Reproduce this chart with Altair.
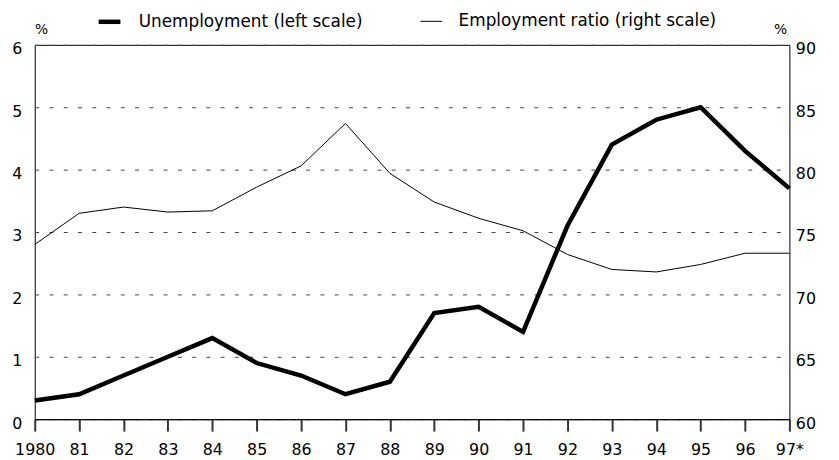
import altair as alt
import pandas as pd

years = [1980, 1981, 1982, 1983, 1984, 1985, 1986, 1987, 1988, 1989,
         1990, 1991, 1992, 1993, 1994, 1995, 1996, 1997]
year_labels = ["1980", "81", "82", "83", "84", "85", "86", "87", "88", "89",
               "90", "91", "92", "93", "94", "95", "96", "97*"]
unemployment = [0.3, 0.4, 0.7, 1.0, 1.3, 0.9, 0.7, 0.4, 0.6, 1.7,
                1.8, 1.4, 3.1, 4.4, 4.8, 5.0, 4.3, 3.7]
employment = [74.0, 76.5, 77.0, 76.6, 76.7, 78.6, 80.3, 83.7, 79.7, 77.4,
              76.1, 75.1, 73.2, 72.0, 71.8, 72.4, 73.3, 73.3]
series = ["Unemployment (left scale)", "Employment ratio (right scale)"]
left_ticks = [0, 1, 2, 3, 4, 5, 6]
right_ticks = [60, 65, 70, 75, 80, 85, 90]

df_u = pd.DataFrame({"year": years, "value": unemployment, "series": series[0]})
df_e = pd.DataFrame({"year": years, "value": employment, "series": series[1]})

FONT = "DejaVu Sans"

label_map = "{" + ", ".join(f"'{y}': '{l}'" for y, l in zip(years, year_labels)) + "}"

x_axis = alt.Axis(title=None, values=years, labelExpr=f"{label_map}[datum.value]",
                  ticks=True, tickSize=12, tickColor="#333", tickWidth=2,
                  domain=True, domainColor="black", domainWidth=1,
                  labelFontSize=16, labelPadding=11,
                  labelColor="black", grid=False,
                  labelFlush=False, labelOverlap=False)
x_scale = alt.Scale(domain=[years[0], years[-1]], nice=False, zero=False)

width_enc = alt.StrokeWidth(
    "series:N",
    scale=alt.Scale(type="point", domain=series, range=[4.5, 1], padding=0),
    legend=alt.Legend(orient="none", legendX=62, legendY=-37, direction="horizontal",
                      title=None, symbolType="stroke", symbolStrokeColor="black",
                      symbolSize=484, labelFontSize=17, labelColor="black",
                      labelOffset=16, columnPadding=55, labelLimit=400),
)

unemp = alt.Chart(df_u).mark_line(color="black", strokeJoin="miter").encode(
    x=alt.X("year:Q", scale=x_scale, axis=x_axis),
    y=alt.Y("value:Q", scale=alt.Scale(domain=[0, 6], nice=False, zero=False),
            axis=alt.Axis(values=left_ticks, grid=True, gridDash=[4, 10.4],
                          gridColor="#444", gridWidth=1, ticks=False, domain=False,
                          labelFontSize=16, labelPadding=13, labelColor="black",
                          labelOffset=4,
                          title="%", titleAngle=0, titleAlign="center",
                          titleBaseline="middle", titleX=6.5, titleY=-15.5,
                          titleFontSize=14, titleFontWeight="normal",
                          titleColor="black")),
    strokeWidth=width_enc,
)

emp = alt.Chart(df_e).mark_line(color="black").encode(
    x=alt.X("year:Q", scale=x_scale, axis=x_axis),
    y=alt.Y("value:Q", scale=alt.Scale(domain=[60, 90], nice=False, zero=False),
            axis=alt.Axis(orient="right", values=right_ticks, grid=False, ticks=False,
                          domain=False, labelFontSize=16, labelPadding=6,
                          labelColor="black", labelOffset=4, title="%", titleAngle=0,
                          titleAlign="center", titleBaseline="middle",
                          titleX=-9.5, titleY=-15.5, titleFontSize=14,
                          titleFontWeight="normal", titleColor="black")),
    strokeWidth=width_enc,
)

chart = alt.layer(emp, unemp).resolve_scale(y="independent").properties(
    width=762, height=378,
    autosize=alt.AutoSizeParams(type="none"),
    padding={"left": 27, "top": 35, "right": 42, "bottom": 39},
).configure(font=FONT).configure_view(
    stroke="black", strokeWidth=1
)

chart.save("out.html", embed_options={"renderer": "svg", "actions": False})
